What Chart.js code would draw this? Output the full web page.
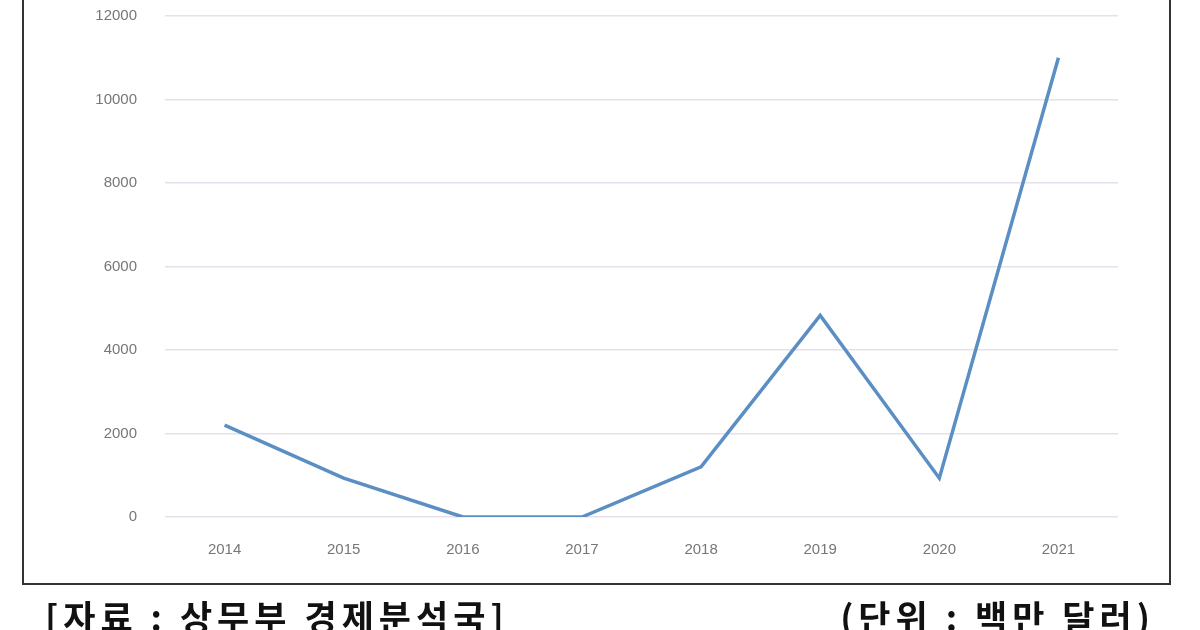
<!DOCTYPE html>
<html><head><meta charset="utf-8">
<script src="https://cdn.jsdelivr.net/npm/chart.js@4"></script>
<style>
html,body{margin:0;padding:0;background:#fff;overflow:hidden}
#wrap{position:relative;width:1200px;height:630px;overflow:hidden}
#box{position:absolute;left:22px;top:-5px;width:1145px;height:588px;border:2px solid #333;border-top:none}
.note{position:absolute;top:590px;font-family:"Noto Sans CJK KR",sans-serif;font-weight:bold;font-size:35px;letter-spacing:5px;color:#111;white-space:nowrap}
canvas{position:absolute;left:0;top:-21px}
</style></head><body>
<div id="wrap">
<div id="box"></div>
<canvas id="c" width="1200" height="651"></canvas>
<div class="note" style="left:45px">[자료 : 상무부 경제분석국]</div>
<div class="note" style="right:45px">(단위 : 백만 달러)</div>
</div>
<script>
const years = ["2014","2015","2016","2017","2018","2019","2020","2021"];
const values = [2200, 930, 0, 0, 1200, 4830, 930, 11000];
const yTicks = [0, 2000, 4000, 6000, 8000, 10000, 12000];

new Chart(document.getElementById('c'), {
  type: 'line',
  data: { labels: years, datasets: [{ data: values, borderColor: '#5b8fc4', borderWidth: 3.5, pointRadius: 0, tension: 0, fill: false }] },
  options: {
    responsive: false, animation: false,
    layout: { padding: { top: 15, right: 82, left: 0, bottom: 0 } },
    plugins: { legend: { display: false }, tooltip: { enabled: false } },
    scales: {
      x: { offset: true, grid: { display: false, drawTicks: false }, border: { display: false },
           ticks: { padding: 24, color: '#777', font: { family: 'Liberation Sans', size: 15 } },
           afterFit: s => { s.height = 113; } },
      y: { min: 0, max: 12000, afterBuildTicks: s => { s.ticks = yTicks.map(v => ({ value: v })); },
           grid: { color: '#e6e0ec', lineWidth: 1.5, drawTicks: false }, border: { display: false },
           ticks: { padding: 28, color: '#777', font: { family: 'Liberation Sans', size: 15 }, callback: v => String(v) },
           afterFit: s => { s.width = 165; } }
    }
  }
});
</script>
</body></html>
